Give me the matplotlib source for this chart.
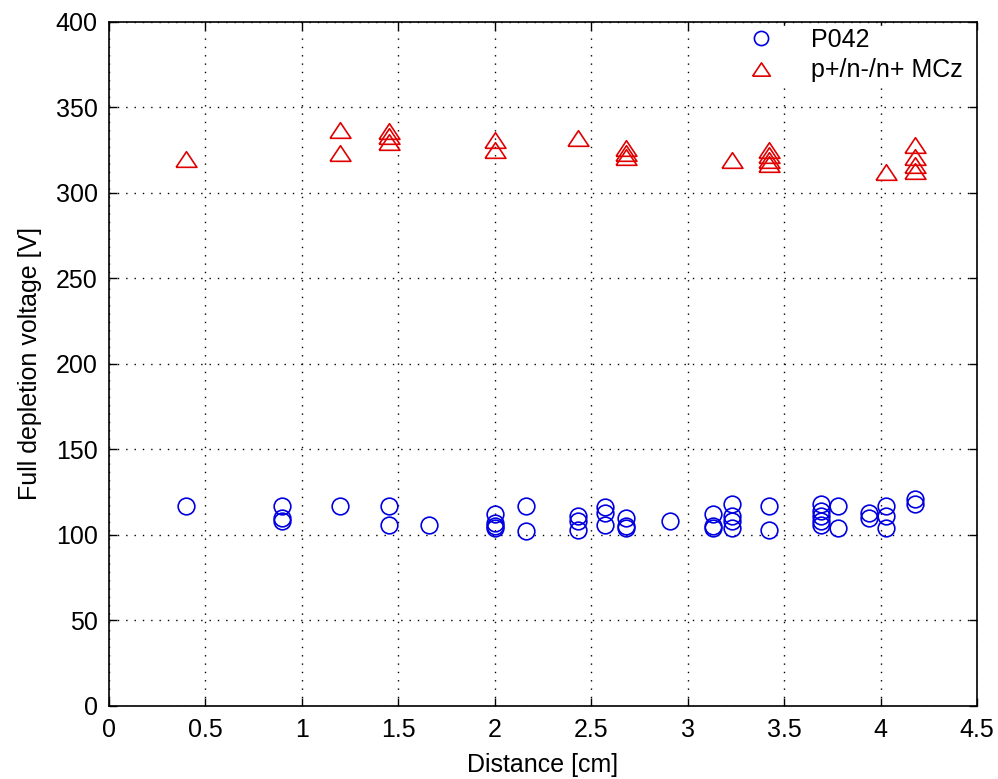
import matplotlib
matplotlib.use("Agg")
import matplotlib.pyplot as plt

# --- data ---
p042_x = [0.40,
          0.90, 0.90, 0.90,
          1.20,
          1.45, 1.45,
          1.66,
          2.00, 2.00, 2.00, 2.00,
          2.16, 2.16,
          2.43, 2.43, 2.43,
          2.57, 2.57, 2.57,
          2.68, 2.68, 2.68,
          2.91,
          3.13, 3.13, 3.13,
          3.23, 3.23, 3.23, 3.23,
          3.42, 3.42,
          3.69, 3.69, 3.69, 3.69, 3.69,
          3.78, 3.78,
          3.94, 3.94,
          4.03, 4.03, 4.03,
          4.18, 4.18]
p042_v = [117,
          117, 110, 108,
          117,
          117, 106,
          106,
          112, 107, 105, 104,
          117, 102,
          111, 108, 103,
          116, 113, 106,
          110, 105, 104,
          108,
          112, 105, 104,
          118, 111, 108, 104,
          117, 103,
          118, 114, 111, 108, 106,
          117, 104,
          113, 110,
          117, 111, 104,
          121, 118]

mcz_x = [0.40,
         1.20, 1.20,
         1.45, 1.45, 1.45,
         2.00, 2.00,
         2.43,
         2.68, 2.68, 2.68,
         3.23,
         3.42, 3.42, 3.42, 3.42,
         4.03,
         4.18, 4.18, 4.18, 4.18]
mcz_v = [320,
         337, 323,
         336, 333, 330,
         331, 325,
         332,
         326, 323, 321,
         319,
         325, 322, 319, 317,
         312,
         328, 321, 316, 313]

xticks = [0, 0.5, 1, 1.5, 2, 2.5, 3, 3.5, 4, 4.5]
xtick_labels = ["0", "0.5", "1", "1.5", "2", "2.5", "3", "3.5", "4", "4.5"]
yticks = [0, 50, 100, 150, 200, 250, 300, 350, 400]

FS = 18
plt.rcParams["font.family"] = ["Liberation Sans", "DejaVu Sans"]

# wide, flat triangle like the MATLAB marker
tri = [(-1, -0.75), (1, -0.75), (0, 0.75), (-1, -0.75)]

fig = plt.figure(figsize=(9.98, 7.79), dpi=100)
ax = fig.add_axes([0.109, 0.094, 0.870, 0.878])

ax.plot(p042_x, p042_v, "o", mfc="none", mec="#0000e0", ms=12, mew=1.2,
        label="P042")
ax.plot(mcz_x, mcz_v, marker=tri, ls="none", mfc="none", mec="#e00000",
        ms=15, mew=1.2, label="p+/n-/n+ MCz")

ax.set_xlim(0, 4.5)
ax.set_ylim(0, 400)
ax.set_xticks(xticks)
ax.set_xticklabels(xtick_labels)
ax.set_yticks(yticks)
ax.tick_params(direction="in", length=6, labelsize=FS, width=1,
               top=True, right=True, pad=8)
ax.tick_params(axis="x", pad=9)
ax.grid(True, color="black", linestyle=(0, (1, 5)), linewidth=1)
for s in ax.spines.values():
    s.set_linewidth(1.2)

ax.set_xlabel("Distance [cm]", fontsize=FS, labelpad=8)
ax.set_ylabel("Full depletion voltage [V]", fontsize=FS, labelpad=10)

leg = ax.legend(loc="upper right", bbox_to_anchor=(0.991, 1.0), fontsize=FS,
                frameon=True, edgecolor="white", fancybox=False,
                borderaxespad=0.15, borderpad=0.1, labelspacing=0.25,
                handletextpad=1.0, markerscale=0.85)
leg.get_frame().set_facecolor("white")
leg.get_frame().set_alpha(1)

fig.savefig("out.png", dpi=100)
